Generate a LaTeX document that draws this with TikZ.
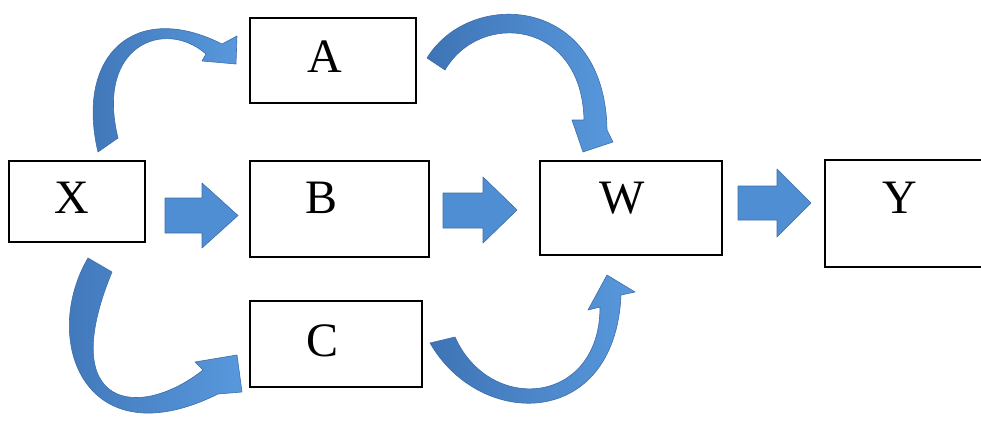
\documentclass[tikz,border=0pt]{standalone}
\usepackage{fontspec}
\setmainfont{Liberation Serif}
\definecolor{arrowblue}{RGB}{80,142,211}
\definecolor{arrowlight}{RGB}{88,152,220}
\definecolor{arrowdark}{RGB}{62,116,182}
\definecolor{arrowedge}{RGB}{62,110,168}
\tikzset{
  box/.style={draw=black, line width=1.3pt, fill=white, rectangle, inner sep=0pt},
  letter/.style={inner sep=0pt, font=\fontsize{48}{58}\selectfont},
  blockarrow/.style={fill=arrowblue, draw=arrowedge, line width=0.6pt, line join=round},
  curvedarrow/.style={left color=arrowdark, right color=arrowlight, draw=arrowedge,
    line width=0.6pt, line join=round}
}
\begin{document}
\begin{tikzpicture}[x=1pt, y=-1pt]
  \useasboundingbox (0,0) rectangle (981,420);
  \clip (0,0) rectangle (981,420);

  % boxes
  \node[box, minimum width=136pt, minimum height=81pt]  (X) at (77,201.5) {};
  \node[box, minimum width=166pt, minimum height=85pt]  (A) at (333,60.5) {};
  \node[box, minimum width=179pt, minimum height=96pt]  (B) at (339.5,209) {};
  \node[box, minimum width=182pt, minimum height=94pt]  (W) at (631,208) {};
  \node[box, minimum width=172pt, minimum height=86pt]  (C) at (336,344) {};
  \node[box, minimum width=175pt, minimum height=107pt] (Y) at (912.5,213.5) {};

  % labels
  \node[letter] (tX) at (72,198) {X};
  \node[letter] (tA) at (325,57) {A};
  \node[letter] (tB) at (322,198) {B};
  \node[letter] (tW) at (622,198) {W};
  \node[letter] (tC) at (323,341) {C};
  \node[letter] (tY) at (900,198) {Y};

  % straight block arrows
  \path[blockarrow] (165,198) -- (202,198) -- (202,183) -- (238,215.5)
    -- (202,248) -- (202,233) -- (165,233) -- cycle;
  \path[blockarrow] (443,193) -- (483,193) -- (483,177) -- (517,210)
    -- (483,243) -- (483,228) -- (443,228) -- cycle;
  \path[blockarrow] (738,186) -- (777,186) -- (777,169) -- (811,203)
    -- (777,237) -- (777,220) -- (738,220) -- cycle;

  % curved arrow X -> A
  \path[curvedarrow]
    (98,152) .. controls (75,55) and (135,0) .. (222,44)
    -- (237,36) -- (236,64) -- (202,61) -- (206,54)
    .. controls (165,18) and (95,45) .. (118,138) -- cycle;

  % curved arrow A -> W
  \path[curvedarrow]
    (427,58) .. controls (470,-12) and (605,-5) .. (607,130)
    -- (613,142) -- (583,152) -- (572,120) -- (584,120)
    .. controls (582,20) and (480,10) .. (445,70) -- cycle;

  % curved arrow X -> C
  \path[curvedarrow]
    (88,258) .. controls (40,340) and (85,460) .. (218,394)
    -- (242,392) -- (237,355) -- (195,362) -- (203,370)
    .. controls (140,420) and (55,410) .. (112,272) -- cycle;

  % curved arrow C -> W
  \path[curvedarrow]
    (430,343) .. controls (480,430) and (615,430) .. (621,295)
    -- (635,292) -- (607,275) -- (588,310) -- (600,307)
    .. controls (600,405) and (490,415) .. (455,337) -- cycle;
\end{tikzpicture}
\end{document}
